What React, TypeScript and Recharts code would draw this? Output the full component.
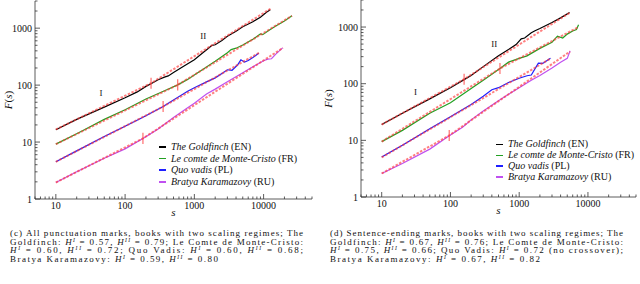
import React from 'react';
import { LineChart, Line, XAxis, YAxis, ReferenceLine, ReferenceDot, Legend } from 'recharts';

// ---------- tick values ----------
const xTicks = [5, 6, 7, 8, 9, 10, 20, 30, 40, 50, 60, 70, 80, 90, 100, 200, 300, 400, 500, 600, 700, 800, 900,
  1000, 2000, 3000, 4000, 5000, 6000, 7000, 8000, 9000, 10000, 20000, 30000, 40000, 50000];
const xMajor = [10, 100, 1000, 10000];
const yTicks = [1, 2, 3, 4, 5, 6, 7, 8, 9, 10, 20, 30, 40, 50, 60, 70, 80, 90, 100, 200, 300, 400, 500, 600, 700,
  800, 900, 1000, 2000, 3000];
const yMajor = [1, 10, 100, 1000];

// ---------- series ----------
const seriesNames = ['The Goldfinch', 'Le comte de Monte-Cristo', 'Quo vadis', 'Bratya Karamazovy'];
const seriesLangs = ['(EN)', '(FR)', '(PL)', '(RU)'];
const seriesColors = ['#000000', '#22a022', '#1f1fff', '#c050f0'];

// Panel (c): all punctuation marks  [s, F(s)]
const cGoldfinch = [[10, 16.5], [20, 25], [50, 41], [100, 60], [150, 76], [200, 95], [237, 106], [300, 124],
  [370, 138], [420, 145], [500, 166], [700, 215], [1000, 280], [1300, 362], [1600, 445], [1800, 500], [2000, 512],
  [2500, 610], [3000, 720], [4000, 880], [5000, 1060], [7000, 1300], [9000, 1560], [11000, 1900], [12500, 2100]];
const cMonte = [[10, 9.2], [20, 14], [50, 25], [100, 37], [200, 57], [400, 83], [575, 101], [800, 126],
  [1000, 150], [2000, 262], [3000, 370], [3400, 420], [4000, 445], [5000, 505], [7000, 640], [9000, 790],
  [9700, 770], [12000, 920], [15000, 1090], [20000, 1340], [25700, 1650]];
const cQuo = [[10, 4.5], [20, 7.0], [50, 12.5], [100, 19], [200, 29], [354, 42], [500, 55], [800, 78],
  [1000, 90], [1500, 114], [2000, 134], [2600, 165], [3000, 186], [3500, 182], [4200, 225], [4700, 278],
  [5300, 255], [6000, 270], [7000, 305], [8500, 362]];
const cBratya = [[10, 1.95], [20, 3.0], [50, 5.2], [100, 7.6], [181, 11.5], [300, 17], [500, 27], [800, 40],
  [1000, 48], [1500, 70], [2000, 85], [3000, 115], [5000, 165], [7000, 210], [10000, 268], [11500, 285],
  [13000, 290], [15000, 350], [18800, 450]];

// fits: start, crossover, end
const cFitGoldfinch = [[10, 16.7], [237, 108], [13000, 2250]];
const cFitMonte = [[10, 9.2], [575, 101], [25700, 1650]];
const cFitQuo = [[10, 4.5], [354, 42], [8700, 372]];
const cFitBratya = [[10, 1.95], [181, 11.6], [19000, 450]];

// Panel (d): sentence-ending marks
const dGoldfinch = [[10, 19], [20, 30], [50, 54], [100, 85], [158, 118], [200, 140], [300, 200], [500, 310],
  [700, 400], [900, 490], [1070, 620], [1200, 640], [1500, 790], [1700, 860], [2000, 940], [3000, 1200],
  [4000, 1450], [5400, 1800]];
const dMonte = [[10, 9.5], [20, 15], [50, 30], [100, 46], [200, 82], [300, 115], [525, 185], [700, 240],
  [1000, 280], [1300, 310], [2000, 420], [3000, 540], [3600, 690], [4300, 640], [5000, 750], [6000, 850],
  [6800, 900], [7300, 1100]];
const dQuo = [[10, 5.1], [20, 8.2], [30, 11], [50, 16], [100, 26], [200, 43], [300, 60], [400, 78],
  [500, 85], [700, 105], [1000, 125], [1300, 138], [1500, 142], [1900, 230], [2200, 228], [2850, 280]];
const dBratya = [[10, 2.6], [20, 3.9], [50, 7.0], [96, 12], [150, 17], [200, 23], [300, 33], [500, 50],
  [700, 65], [1000, 85], [1500, 115], [2000, 140], [3000, 190], [4000, 240], [5000, 280], [5500, 380]];

const dFitGoldfinch = [[10, 19], [158, 120], [5500, 1800]];
const dFitMonte = [[10, 9.5], [525, 185], [7300, 1000]];
const dFitQuo = [[10, 5.0], [2900, 280]];
const dFitBratya = [[10, 2.6], [96, 12.2], [5500, 370]];

// ---------- styling ----------
const FONT = "'Liberation Serif', 'Times New Roman', serif";
const INK = '#111';
const AXIS = '#333';
const RED = '#ff3c3c';

const toPts = (a: number[][]) => a.map(([s, F]) => ({ s, F }));

const makeXTick = (side: 'bottom' | 'top') => (props: any) => {
  const { x, y, payload } = props;
  const v = payload.value;
  const major = xMajor.indexOf(v) >= 0;
  const len = major ? 5 : 2.5;
  const dir = side === 'bottom' ? -1 : 1;
  return (
    <g>
      <line x1={x} x2={x} y1={y} y2={y + dir * len} stroke={AXIS} strokeWidth={0.8} />
      {side === 'bottom' && major ? (
        <text x={x} y={y + 10} textAnchor="middle" fontFamily={FONT} fontSize={10} fill={INK}>{v}</text>
      ) : null}
    </g>
  );
};

const makeYTick = (side: 'left' | 'right') => (props: any) => {
  const { x, y, payload } = props;
  const v = payload.value;
  const major = yMajor.indexOf(v) >= 0;
  const len = major ? 5 : 2.5;
  const dir = side === 'left' ? 1 : -1;
  return (
    <g>
      <line x1={x} x2={x + dir * len} y1={y} y2={y} stroke={AXIS} strokeWidth={0.8} />
      {side === 'left' && major ? (
        <text x={x - 3} y={y + 3.5} textAnchor="end" fontFamily={FONT} fontSize={10} fill={INK}>{v}</text>
      ) : null}
    </g>
  );
};

const LegendBox = ({ gap }: { gap: number }) => (
  <div style={{ fontFamily: FONT, fontSize: 10, lineHeight: gap + 'px', color: INK }}>
    {seriesNames.map((n, i) => (
      <div key={n} style={{ display: 'flex', alignItems: 'center', whiteSpace: 'nowrap' }}>
        <span style={{ display: 'inline-block', width: 7, height: 1.6, background: seriesColors[i], marginRight: 5 }} />
        <span><i>{n}</i> {seriesLangs[i]}</span>
      </div>
    ))}
  </div>
);

type PanelCfg = {
  left: number;
  margin: { top: number; right: number; bottom: number; left: number };
  yWidth: number;
  xHeight: number;
  series: number[][][];
  fits: number[][][];
  legendLeft: number;
  legendTop: number;
  legendGap: number;
  romans: { s: number; F: number; t: string }[];
};

const panelC: PanelCfg = {
  left: 0,
  margin: { top: 1, right: 8, bottom: 0, left: 0 },
  yWidth: 35,
  xHeight: 31,
  series: [cGoldfinch, cMonte, cQuo, cBratya],
  fits: [cFitGoldfinch, cFitMonte, cFitQuo, cFitBratya],
  legendLeft: 159,
  legendTop: 141,
  legendGap: 11.7,
  romans: [{ s: 45, F: 72, t: 'I' }, { s: 1350, F: 720, t: 'II' }],
};

const panelD: PanelCfg = {
  left: 320,
  margin: { top: 0, right: 4, bottom: 0, left: 0 },
  yWidth: 41,
  xHeight: 33,
  series: [dGoldfinch, dMonte, dQuo, dBratya],
  fits: [dFitGoldfinch, dFitMonte, dFitQuo, dFitBratya],
  legendLeft: 176,
  legendTop: 139,
  legendGap: 10.9,
  romans: [{ s: 31, F: 71, t: 'I' }, { s: 435, F: 510, t: 'II' }],
};

const Panel = ({ cfg }: { cfg: PanelCfg }) => (
  <div style={{ position: 'absolute', left: cfg.left, top: 0, width: 320, height: 230 }}>
    <LineChart width={320} height={230} margin={cfg.margin}>
      <XAxis dataKey="s" type="number" scale="log" domain={[5, 50000]} allowDataOverflow ticks={xTicks}
        interval={0} height={cfg.xHeight} tickSize={0} tickMargin={0} tickLine={false}
        axisLine={{ stroke: AXIS, strokeWidth: 0.8 }} tick={makeXTick('bottom')}
        label={{
          content: (p: any) => (
            <text x={p.viewBox.x + p.viewBox.width / 2} y={p.viewBox.y + 17} textAnchor="middle"
              fontFamily={FONT} fontSize={11} fontStyle="italic" fill={INK}>s</text>
          ),
        }} />
      <XAxis xAxisId="t" dataKey="s" type="number" scale="log" domain={[5, 50000]} allowDataOverflow
        ticks={xTicks} interval={0} orientation="top" height={0} tickSize={0} tickMargin={0} tickLine={false}
        axisLine={{ stroke: AXIS, strokeWidth: 0.8 }} tick={makeXTick('top')} />
      <YAxis dataKey="F" type="number" scale="log" domain={[1, 3000]} allowDataOverflow ticks={yTicks}
        interval={0} width={cfg.yWidth} tickSize={0} tickMargin={0} tickLine={false}
        axisLine={{ stroke: AXIS, strokeWidth: 0.8 }} tick={makeYTick('left')}
        label={{
          content: (p: any) => {
            const cx = 8;
            const cy = p.viewBox.y + p.viewBox.height / 2;
            return (
              <text x={cx} y={cy} transform={`rotate(-90 ${cx} ${cy})`} textAnchor="middle"
                dominantBaseline="central" fontFamily={FONT} fontSize={11} fill={INK}>
                <tspan fontStyle="italic">F</tspan>(<tspan fontStyle="italic">s</tspan>)
              </text>
            );
          },
        }} />
      <YAxis yAxisId="r" dataKey="F" type="number" scale="log" domain={[1, 3000]} allowDataOverflow
        ticks={yTicks} interval={0} orientation="right" width={0} tickSize={0} tickMargin={0} tickLine={false}
        axisLine={{ stroke: AXIS, strokeWidth: 0.8 }} tick={makeYTick('right')} />
      {cfg.series.map((d, i) => (
        <Line key={'s' + i} data={toPts(d)} dataKey="F" type="linear" stroke={seriesColors[i]}
          strokeWidth={1.2} dot={false} isAnimationActive={false} legendType="none" />
      ))}
      {cfg.fits.map((d, i) => (
        <Line key={'f' + i} data={toPts(d)} dataKey="F" type="linear" stroke={RED} strokeOpacity={0.65}
          strokeWidth={2} strokeDasharray="2.5 1.5" dot={false} isAnimationActive={false} legendType="none" />
      ))}
      {cfg.fits.filter((d) => d.length === 3).map((d, i) => (
        <ReferenceLine key={'c' + i} ifOverflow="visible" stroke={RED} strokeOpacity={0.75} strokeWidth={1.2}
          segment={[{ x: d[1][0], y: d[1][1] / 1.25 }, { x: d[1][0], y: d[1][1] * 1.25 }]} />
      ))}
      {cfg.romans.map((r) => (
        <ReferenceDot key={r.t} x={r.s} y={r.F} r={1} fill="none" stroke="none" ifOverflow="visible"
          label={{ value: r.t, position: 'center', fontFamily: FONT, fontSize: 9, fill: INK }} />
      ))}
      <Legend verticalAlign="middle" align="center" layout="horizontal"
        wrapperStyle={{ position: 'absolute', left: cfg.legendLeft, top: cfg.legendTop, width: 170, height: 'auto' }}
        content={() => <LegendBox gap={cfg.legendGap} />} />
    </LineChart>
  </div>
);

const Hs = ({ sup }: { sup: string }) => (
  <>
    <tspan fontStyle="italic">H</tspan>
    <tspan fontStyle="italic" fontSize={5.5} dy={-3}>{sup}</tspan>
    <tspan dy={3}>{' '}</tspan>
  </>
);

const CAP_FS = 9;
const capBase = [236, 244.6, 253.2, 261.8];

const Captions = () => (
  <svg width={640} height={284} style={{ position: 'absolute', left: 0, top: 0, pointerEvents: 'none' }}
    fontFamily={FONT} fontSize={CAP_FS} fill={INK}>
    <text x={10} y={capBase[0]} textLength={293} lengthAdjust="spacing">
      (c) All punctuation marks, books with two scaling regimes; The
    </text>
    <text x={10} y={capBase[1]} textLength={293} lengthAdjust="spacing">
      Goldfinch: <Hs sup="I" />= 0.57, <Hs sup="II" />= 0.79; Le Comte de Monte-Cristo:
    </text>
    <text x={10} y={capBase[2]} textLength={293} lengthAdjust="spacing">
      <Hs sup="I" />= 0.60, <Hs sup="II" />= 0.72; Quo Vadis: <Hs sup="I" />= 0.60, <Hs sup="II" />= 0.68;
    </text>
    <text x={10} y={capBase[3]} textLength={208} lengthAdjust="spacing">
      Bratya Karamazovy: <Hs sup="I" />= 0.59, <Hs sup="II" />= 0.80
    </text>

    <text x={330} y={capBase[0]} textLength={293} lengthAdjust="spacing">
      (d) Sentence-ending marks, books with two scaling regimes; The
    </text>
    <text x={330} y={capBase[1]} textLength={293} lengthAdjust="spacing">
      Goldfinch: <Hs sup="I" />= 0.67, <Hs sup="II" />= 0.76; Le Comte de Monte-Cristo:
    </text>
    <text x={330} y={capBase[2]} textLength={293} lengthAdjust="spacing">
      <Hs sup="I" />= 0.75, <Hs sup="II" />= 0.66; Quo Vadis: <Hs sup="I" />= 0.72 (no crossover);
    </text>
    <text x={330} y={capBase[3]} textLength={210} lengthAdjust="spacing">
      Bratya Karamazovy: <Hs sup="I" />= 0.67, <Hs sup="II" />= 0.82
    </text>
  </svg>
);

export default function App() {
  return (
    <div style={{ position: 'absolute', left: 0, top: 0, width: 640, height: 284, background: '#fff', overflow: 'hidden' }}>
      <Panel cfg={panelC} />
      <Panel cfg={panelD} />
      <Captions />
    </div>
  );
}
